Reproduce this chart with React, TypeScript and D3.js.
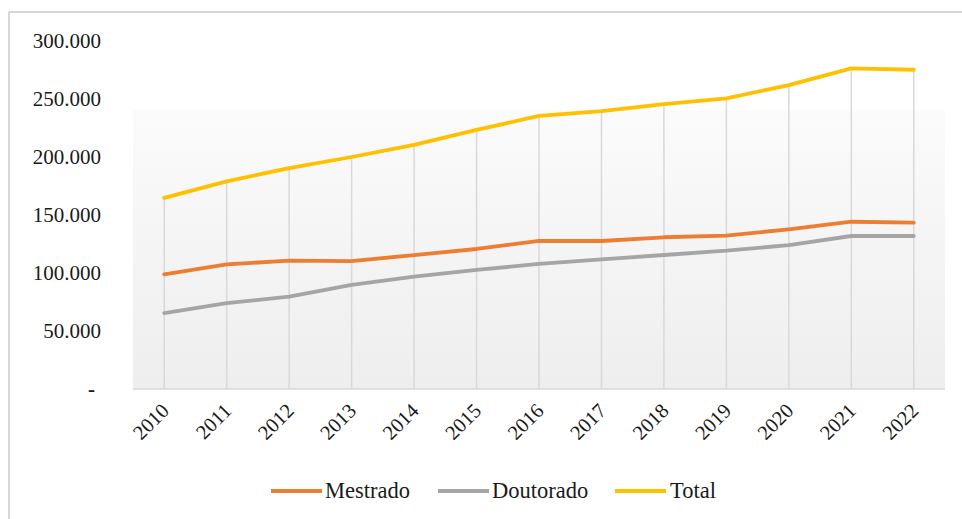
import React from "react";
import * as d3 from "d3";

const years = ["2010","2011","2012","2013","2014","2015","2016","2017","2018","2019","2020","2021","2022"];
const mestrado = [98900, 107500, 110600, 110300, 115500, 120700, 127600, 127600, 130800, 132200, 137700, 144200, 143400];
const doutorado = [65500, 74000, 79600, 89700, 96800, 102600, 107800, 111800, 115500, 119200, 124100, 131900, 131900];
const total = [164700, 179000, 190500, 200000, 210500, 223300, 235400, 239600, 245500, 250500, 262000, 276400, 275200];
const yTicks = [0, 50000, 100000, 150000, 200000, 250000, 300000];
const seriesNames = ["Mestrado", "Doutorado", "Total"];
const seriesColors = ["#ED7D31", "#A5A5A5", "#FFC000"];

const W = 962, H = 519;
const FONT = "Liberation Serif, Times New Roman, DejaVu Serif, serif";

export default function App() {
  const x = d3.scaleBand<string>().domain(years).range([133, 945]).padding(0);
  const cx = (yr: string) => (x(yr) as number) + x.bandwidth() / 2;
  const y = d3.scaleLinear().domain([0, 300000]).range([389, 41]);
  const seriesData = [mestrado, doutorado, total];
  const line = d3.line<number>().x((_, i) => cx(years[i])).y((v) => y(v));
  const fmt = (v: number) => (v === 0 ? "-" : d3.format(",")(v).replace(/,/g, "."));

  const legendItems = [
    { x: 271, textX: 325 },
    { x: 438, textX: 492 },
    { x: 615, textX: 670 },
  ];
  const txt = { fontFamily: FONT, fill: "#1a1a1a" } as React.CSSProperties;

  return (
    <svg width={W} height={H} style={{ position: "absolute", left: 0, top: 0, background: "#fff" }}>
      <defs>
        <linearGradient id="plotBg" x1="0" y1="0" x2="0" y2="1">
          <stop offset="0%" stopColor="#fbfbfb" />
          <stop offset="100%" stopColor="#eeeeee" />
        </linearGradient>
      </defs>
      {/* frame */}
      <line x1={9} y1={12} x2={9} y2={H} stroke="#d6d6d6" strokeWidth={2} />
      <line x1={9} y1={12} x2={W} y2={12} stroke="#d6d6d6" strokeWidth={2} />
      {/* plot background */}
      <rect x={133} y={110} width={812} height={279} fill="url(#plotBg)" />
      {/* drop lines */}
      {years.map((yr, i) => (
        <line key={yr} x1={cx(yr)} x2={cx(yr)} y1={y(total[i])} y2={y(0)} stroke="#d9d9d9" strokeWidth={1.5} />
      ))}
      {/* axis baseline */}
      <line x1={133} x2={945} y1={y(0)} y2={y(0)} stroke="#d9d9d9" strokeWidth={1.5} />
      {/* y tick labels */}
      {yTicks.map((t) => (
        <text key={t} x={t === 0 ? 95 : 101} y={y(t)} dy="0.35em" textAnchor="end"
          style={{ ...txt, fontSize: 21, fontWeight: t === 0 ? "bold" : "normal" }}>
          {fmt(t)}
        </text>
      ))}
      {/* x tick labels */}
      {years.map((yr) => (
        <text key={yr} transform={`translate(${cx(yr) + 6},${y(0) + 23}) rotate(-45)`} textAnchor="end"
          style={{ ...txt, fontSize: 20.5 }}>
          {yr}
        </text>
      ))}
      {/* series lines */}
      {seriesData.map((d, i) => (
        <path key={seriesNames[i]} d={line(d) as string} fill="none" stroke={seriesColors[i]}
          strokeWidth={3.8} strokeLinejoin="round" strokeLinecap="round" />
      ))}
      {/* legend */}
      {seriesNames.map((n, i) => (
        <g key={n}>
          <line x1={legendItems[i].x} x2={legendItems[i].x + 51} y1={491} y2={491} stroke={seriesColors[i]} strokeWidth={3.8} />
          <text x={legendItems[i].textX} y={498} style={{ ...txt, fontSize: 22.5 }}>{n}</text>
        </g>
      ))}
    </svg>
  );
}
